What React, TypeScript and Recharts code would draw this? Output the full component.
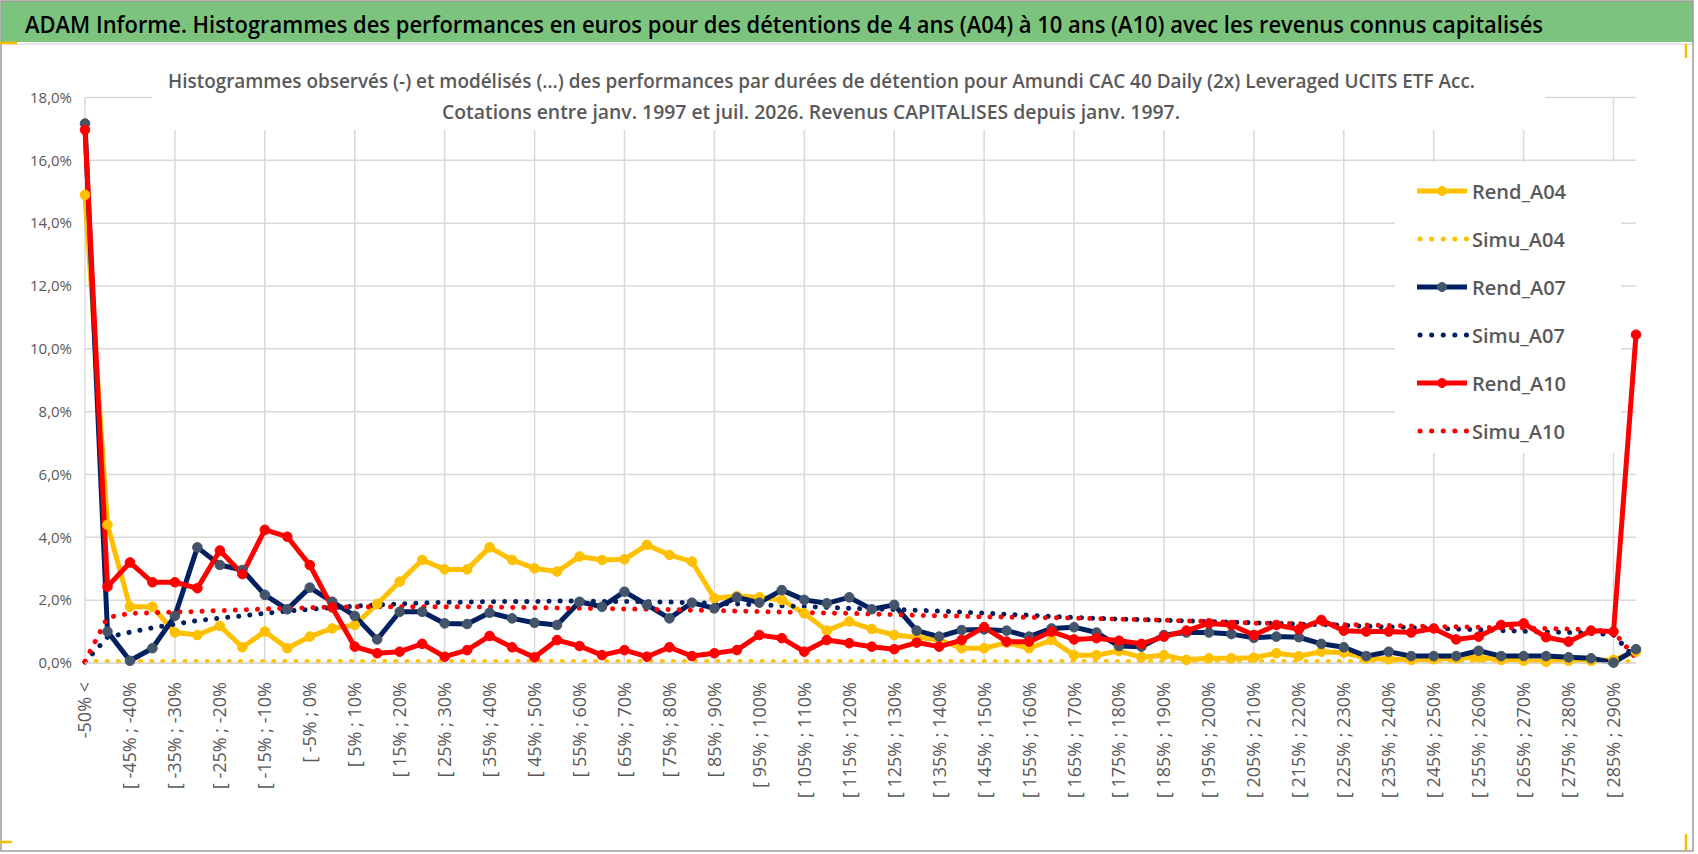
import React from 'react';
import { LineChart, Line, XAxis, YAxis, CartesianGrid, Legend, ReferenceLine } from 'recharts';

const categories = [
  '-50% <', '[ -50% ; -45%', '[ -45% ; -40%', '[ -40% ; -35%', '[ -35% ; -30%', '[ -30% ; -25%',
  '[ -25% ; -20%', '[ -20% ; -15%', '[ -15% ; -10%', '[ -10% ; -5%', '[ -5% ; 0%', '[ 0% ; 5%',
  '[ 5% ; 10%', '[ 10% ; 15%', '[ 15% ; 20%', '[ 20% ; 25%', '[ 25% ; 30%', '[ 30% ; 35%',
  '[ 35% ; 40%', '[ 40% ; 45%', '[ 45% ; 50%', '[ 50% ; 55%', '[ 55% ; 60%', '[ 60% ; 65%',
  '[ 65% ; 70%', '[ 70% ; 75%', '[ 75% ; 80%', '[ 80% ; 85%', '[ 85% ; 90%', '[ 90% ; 95%',
  '[ 95% ; 100%', '[ 100% ; 105%', '[ 105% ; 110%', '[ 110% ; 115%', '[ 115% ; 120%', '[ 120% ; 125%',
  '[ 125% ; 130%', '[ 130% ; 135%', '[ 135% ; 140%', '[ 140% ; 145%', '[ 145% ; 150%', '[ 150% ; 155%',
  '[ 155% ; 160%', '[ 160% ; 165%', '[ 165% ; 170%', '[ 170% ; 175%', '[ 175% ; 180%', '[ 180% ; 185%',
  '[ 185% ; 190%', '[ 190% ; 195%', '[ 195% ; 200%', '[ 200% ; 205%', '[ 205% ; 210%', '[ 210% ; 215%',
  '[ 215% ; 220%', '[ 220% ; 225%', '[ 225% ; 230%', '[ 230% ; 235%', '[ 235% ; 240%', '[ 240% ; 245%',
  '[ 245% ; 250%', '[ 250% ; 255%', '[ 255% ; 260%', '[ 260% ; 265%', '[ 265% ; 270%', '[ 270% ; 275%',
  '[ 275% ; 280%', '[ 280% ; 285%', '[ 285% ; 290%', '290% >',
];

const rendA04 = [
  14.9, 4.4, 1.79, 1.79, 0.97, 0.89, 1.18, 0.5, 1.0, 0.47, 0.84, 1.1,
  1.21, 1.88, 2.59, 3.28, 2.98, 2.98, 3.68, 3.28, 3.01, 2.91, 3.39, 3.28,
  3.3, 3.76, 3.44, 3.23, 2.06, 2.13, 2.09, 2.01, 1.58, 1.03, 1.32, 1.08,
  0.89, 0.82, 0.73, 0.47, 0.47, 0.65, 0.47, 0.73, 0.25, 0.25, 0.38, 0.18,
  0.25, 0.1, 0.15, 0.15, 0.17, 0.31, 0.22, 0.36, 0.33, 0.15, 0.12, 0.1,
  0.12, 0.15, 0.18, 0.1, 0.07, 0.04, 0.07, 0.07, 0.1, 0.36,
];

const simuA04 = [
  0.05, 0.05, 0.05, 0.05, 0.05, 0.05, 0.05, 0.05, 0.05, 0.05, 0.05, 0.05,
  0.05, 0.05, 0.05, 0.05, 0.05, 0.05, 0.05, 0.05, 0.05, 0.05, 0.05, 0.05,
  0.05, 0.05, 0.05, 0.05, 0.05, 0.05, 0.05, 0.05, 0.05, 0.05, 0.05, 0.05,
  0.05, 0.05, 0.05, 0.05, 0.05, 0.05, 0.05, 0.05, 0.05, 0.05, 0.05, 0.05,
  0.05, 0.05, 0.05, 0.05, 0.05, 0.05, 0.05, 0.05, 0.05, 0.05, 0.05, 0.05,
  0.05, 0.05, 0.05, 0.05, 0.05, 0.05, 0.05, 0.05, 0.05, 0.05,
];

const rendA07 = [
  17.17, 1.0, 0.07, 0.47, 1.5, 3.68, 3.12, 2.96, 2.17, 1.71, 2.4, 1.95,
  1.5, 0.75, 1.63, 1.63, 1.26, 1.24, 1.6, 1.42, 1.28, 1.21, 1.95, 1.79,
  2.27, 1.85, 1.42, 1.92, 1.74, 2.09, 1.92, 2.32, 2.01, 1.9, 2.09, 1.71,
  1.85, 1.03, 0.84, 1.05, 1.07, 1.03, 0.84, 1.1, 1.14, 0.97, 0.54, 0.52,
  0.89, 0.97, 0.97, 0.92, 0.8, 0.84, 0.82, 0.61, 0.5, 0.22, 0.36, 0.22,
  0.22, 0.22, 0.39, 0.22, 0.22, 0.22, 0.18, 0.15, 0.01, 0.44,
];

const simuA07 = [
  0.03, 0.82, 0.98, 1.12, 1.24, 1.35, 1.43, 1.5, 1.58, 1.65, 1.71, 1.76,
  1.81, 1.85, 1.88, 1.91, 1.93, 1.94, 1.95, 1.96, 1.96, 1.97, 1.97, 1.96,
  1.96, 1.95, 1.94, 1.92, 1.9, 1.88, 1.85, 1.82, 1.8, 1.77, 1.74, 1.72,
  1.7, 1.68, 1.65, 1.62, 1.59, 1.55, 1.52, 1.48, 1.45, 1.42, 1.4, 1.38,
  1.36, 1.34, 1.32, 1.3, 1.28, 1.26, 1.24, 1.22, 1.2, 1.17, 1.15, 1.13,
  1.1, 1.08, 1.06, 1.03, 1.01, 0.99, 0.97, 0.95, 0.9, 0.12,
];

const rendA10 = [
  16.97, 2.43, 3.2, 2.57, 2.57, 2.38, 3.58, 2.83, 4.24, 4.02, 3.12, 1.77,
  0.52, 0.31, 0.36, 0.61, 0.2, 0.41, 0.86, 0.5, 0.18, 0.73, 0.54, 0.25,
  0.41, 0.2, 0.5, 0.22, 0.31, 0.41, 0.89, 0.79, 0.36, 0.73, 0.63, 0.52,
  0.44, 0.65, 0.52, 0.73, 1.14, 0.68, 0.68, 1.0, 0.75, 0.79, 0.71, 0.61,
  0.84, 1.03, 1.26, 1.21, 0.89, 1.21, 1.07, 1.37, 1.03, 1.0, 1.0, 0.97,
  1.1, 0.75, 0.84, 1.21, 1.26, 0.82, 0.68, 1.03, 1.0, 10.45,
];

const simuA10 = [
  0.05, 1.45, 1.58, 1.6, 1.62, 1.64, 1.67, 1.69, 1.72, 1.74, 1.76, 1.78,
  1.79, 1.79, 1.79, 1.79, 1.79, 1.79, 1.78, 1.77, 1.76, 1.75, 1.74, 1.73,
  1.72, 1.71, 1.7, 1.68, 1.67, 1.65, 1.64, 1.62, 1.61, 1.59, 1.58, 1.56,
  1.54, 1.52, 1.5, 1.49, 1.47, 1.46, 1.45, 1.44, 1.43, 1.41, 1.4, 1.38,
  1.36, 1.34, 1.32, 1.3, 1.27, 1.26, 1.25, 1.24, 1.22, 1.21, 1.19, 1.18,
  1.16, 1.15, 1.14, 1.12, 1.11, 1.1, 1.08, 1.06, 1.0, 0.15,
];

const yTicks = [0, 2, 4, 6, 8, 10, 12, 14, 16, 18];

const seriesKeys = ['Rend_A04', 'Simu_A04', 'Rend_A07', 'Simu_A07', 'Rend_A10', 'Simu_A10'];
const seriesValues = [rendA04, simuA04, rendA07, simuA07, rendA10, simuA10];

const seriesStyle: Record<string, { color: string; marker: string; dotted: boolean }> = {
  Rend_A04: { color: '#FFC000', marker: '#FFC000', dotted: false },
  Simu_A04: { color: '#FFC000', marker: '#FFC000', dotted: true },
  Rend_A07: { color: '#002060', marker: '#44546A', dotted: false },
  Simu_A07: { color: '#002060', marker: '#002060', dotted: true },
  Rend_A10: { color: '#FF0000', marker: '#FF0000', dotted: false },
  Simu_A10: { color: '#FF0000', marker: '#FF0000', dotted: true },
};

const data = categories.map((cat, i) => {
  const row: Record<string, string | number> = { cat };
  seriesKeys.forEach((k, s) => {
    row[k] = seriesValues[s][i];
  });
  return row;
});

// vertical grid lines on every 4th category
const gridCategories = categories.filter((_, i) => i % 4 === 0);

const FONT = '"Open Sans", "Noto Sans", sans-serif';
const GRID = '#d9d9d9';
const TEXT = '#595959';

const fmtPct = (v: number) => v.toFixed(1).replace('.', ',') + '%';

const XTick = (props: any) => {
  const { x, y, payload } = props;
  return (
    <g transform={`translate(${x},${y})`}>
      <text
        transform="rotate(-90)"
        x={-19}
        y={0}
        dy="0.36em"
        textAnchor="end"
        fill={TEXT}
        fontSize={18}
        fontFamily={FONT}
      >
        {payload.value}
      </text>
    </g>
  );
};

const LegendContent = () => (
  <div style={{ position: 'relative', width: 226, height: 291, background: '#fff', fontFamily: FONT }}>
    {seriesKeys.map((k, i) => {
      const st = seriesStyle[k];
      return (
        <div
          key={k}
          style={{
            position: 'absolute',
            left: 0,
            top: 5 + i * 48,
            height: 48,
            width: 226,
            display: 'flex',
            alignItems: 'center',
          }}
        >
          <svg width={77} height={20} style={{ display: 'block', flex: 'none' }}>
            {st.dotted ? (
              <line x1={25} x2={72} y1={10} y2={10} stroke={st.color} strokeWidth={5}
                strokeDasharray="0.1 11.5" strokeLinecap="round" />
            ) : (
              <g>
                <line x1={22} x2={72} y1={10} y2={10} stroke={st.color} strokeWidth={5} />
                <circle cx={47} cy={10} r={4.5} fill={st.marker} stroke={st.marker} />
              </g>
            )}
          </svg>
          <span style={{ fontSize: 20, fontWeight: 600, color: TEXT, whiteSpace: 'nowrap' }}>{k}</span>
        </div>
      );
    })}
  </div>
);

export default function App() {
  const W = 1698;
  const H = 854;
  return (
    <div style={{ position: 'absolute', left: 0, top: 0, width: W, height: H, background: '#fff', overflow: 'hidden', fontFamily: FONT }}>
      <LineChart
        width={W}
        height={H}
        data={data}
        margin={{ top: 97.5, right: 62, bottom: 11, left: 0 }}
      >
        <CartesianGrid stroke={GRID} strokeWidth={1.5} vertical={false} />
        <XAxis
          dataKey="cat"
          scale="point"
          padding={{ left: 0, right: 0 }}
          interval={1}
          height={180}
          tickSize={0}
          tickMargin={0}
          tickLine={false}
          axisLine={{ stroke: GRID, strokeWidth: 1.5 }}
          tick={<XTick />}
        />
        <YAxis
          type="number"
          domain={[0, 18]}
          ticks={yTicks}
          width={85}
          tickSize={0}
          tickMargin={13}
          axisLine={false}
          tickLine={false}
          tickFormatter={fmtPct}
          tick={{ fill: TEXT, fontSize: 15, fontFamily: FONT }}
        />
        {gridCategories.map((c) => (
          <ReferenceLine key={'g' + c} x={c} stroke={GRID} strokeWidth={1.5} zIndex={-50} />
        ))}
        <Legend
          layout="vertical"
          align="center"
          verticalAlign="middle"
          content={<LegendContent />}
          wrapperStyle={{ position: 'absolute', left: 1395, top: 162, width: 226, height: 291 }}
        />
        {seriesKeys.map((k) => {
          const st = seriesStyle[k];
          return st.dotted ? (
            <Line
              key={k}
              type="linear"
              dataKey={k}
              name={k}
              stroke={st.color}
              strokeWidth={5}
              strokeDasharray="0.1 11"
              strokeLinecap="round"
              dot={false}
              activeDot={false}
              isAnimationActive={false}
            />
          ) : (
            <Line
              key={k}
              type="linear"
              dataKey={k}
              name={k}
              stroke={st.color}
              strokeWidth={5}
              strokeLinejoin="round"
              dot={{ r: 4.8, fill: st.marker, stroke: st.marker, strokeWidth: 1 }}
              activeDot={false}
              isAnimationActive={false}
            />
          );
        })}
      </LineChart>

      <svg
        width={W}
        height={H}
        style={{ position: 'absolute', left: 0, top: 0, pointerEvents: 'none' }}
      >
        <rect x={152} y={50} width={1393} height={80} fill="#fff" />
        <rect x={1} y={1} width={1692} height={41} fill="#7cc47e" />
        <line x1={1} x2={1693} y1={44} y2={44} stroke="#d0d0d0" strokeWidth={1} />
        <rect x={1} y={1} width={1692} height={850} fill="none" stroke="#9a9a9a" strokeWidth={1.5} />
        <line x1={0} x2={17} y1={43} y2={43} stroke="#f2c200" strokeWidth={2.5} />
        <line x1={1686} x2={1686} y1={44} y2={58} stroke="#f2c200" strokeWidth={2.5} />
        <line x1={0} x2={12} y1={842} y2={842} stroke="#f2c200" strokeWidth={2.5} />
        <line x1={1686} x2={1686} y1={834} y2={850} stroke="#f2c200" strokeWidth={2.5} />
        <text
          x={25}
          y={33}
          fontSize={24}
          fontWeight={600}
          fill="#000"
          fontFamily={FONT}
          textLength={1518}
          lengthAdjust="spacingAndGlyphs"
        >
          ADAM Informe. Histogrammes des performances en euros pour des détentions de 4 ans (A04) à 10 ans (A10) avec les revenus connus capitalisés
        </text>
        <text
          x={821.5}
          y={88}
          textAnchor="middle"
          fontSize={20}
          fontWeight={600}
          fill={TEXT}
          fontFamily={FONT}
          textLength={1307}
          lengthAdjust="spacingAndGlyphs"
        >
          Histogrammes observés (-) et modélisés (…) des performances par durées de détention pour Amundi CAC 40 Daily (2x) Leveraged UCITS ETF Acc.
        </text>
        <text
          x={811}
          y={119}
          textAnchor="middle"
          fontSize={20}
          fontWeight={600}
          fill={TEXT}
          fontFamily={FONT}
          textLength={738}
          lengthAdjust="spacingAndGlyphs"
        >
          Cotations entre janv. 1997 et juil. 2026. Revenus CAPITALISES depuis janv. 1997.
        </text>
      </svg>
    </div>
  );
}
